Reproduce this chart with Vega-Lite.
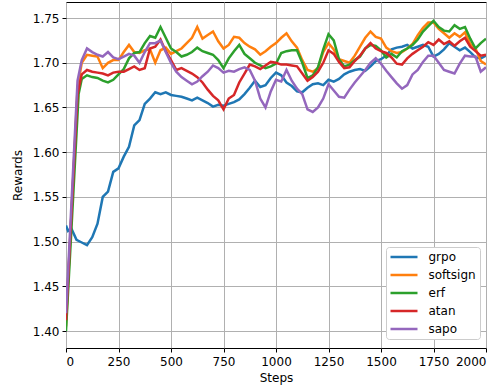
{
"$schema":"https://vega.github.io/schema/vega-lite/v6.json",
"width":420,"height":346,
"autosize":{"type":"none"},
"padding":{"left":66,"top":2,"right":16,"bottom":39},
"background":"white",
"config":{
 "font":"DejaVu Sans",
 "view":{"stroke":"black","strokeWidth":1},
 "axis":{"labelFont":"DejaVu Sans","titleFont":"DejaVu Sans","labelFontSize":12,"titleFontSize":12,"titleFontWeight":"normal","labelColor":"black","titleColor":"black","gridColor":"#b0b0b0","gridWidth":1,"tickColor":"black","tickSize":4,"domain":false,"labelPadding":3},
 "legend":{"labelFont":"DejaVu Sans","labelFontSize":12,"labelColor":"black"}
},
"data":{"values":[
{"s":"grpo","x":0,"y":1.518},{"s":"grpo","x":10,"y":1.512},{"s":"grpo","x":25,"y":1.515},{"s":"grpo","x":50,"y":1.502},{"s":"grpo","x":75,"y":1.499},{"s":"grpo","x":100,"y":1.496},{"s":"grpo","x":125,"y":1.505},{"s":"grpo","x":150,"y":1.52},{"s":"grpo","x":175,"y":1.55},{"s":"grpo","x":200,"y":1.556},{"s":"grpo","x":225,"y":1.578},{"s":"grpo","x":250,"y":1.582},{"s":"grpo","x":275,"y":1.595},{"s":"grpo","x":300,"y":1.606},{"s":"grpo","x":325,"y":1.63},{"s":"grpo","x":350,"y":1.636},{"s":"grpo","x":375,"y":1.654},{"s":"grpo","x":400,"y":1.66},{"s":"grpo","x":425,"y":1.667},{"s":"grpo","x":450,"y":1.665},{"s":"grpo","x":475,"y":1.667},{"s":"grpo","x":500,"y":1.664},{"s":"grpo","x":525,"y":1.663},{"s":"grpo","x":550,"y":1.662},{"s":"grpo","x":575,"y":1.66},{"s":"grpo","x":600,"y":1.658},{"s":"grpo","x":625,"y":1.661},{"s":"grpo","x":650,"y":1.658},{"s":"grpo","x":675,"y":1.655},{"s":"grpo","x":700,"y":1.651},{"s":"grpo","x":725,"y":1.653},{"s":"grpo","x":750,"y":1.652},{"s":"grpo","x":775,"y":1.654},{"s":"grpo","x":800,"y":1.656},{"s":"grpo","x":825,"y":1.659},{"s":"grpo","x":850,"y":1.665},{"s":"grpo","x":875,"y":1.672},{"s":"grpo","x":900,"y":1.68},{"s":"grpo","x":925,"y":1.673},{"s":"grpo","x":950,"y":1.675},{"s":"grpo","x":975,"y":1.683},{"s":"grpo","x":1000,"y":1.689},{"s":"grpo","x":1025,"y":1.686},{"s":"grpo","x":1050,"y":1.678},{"s":"grpo","x":1075,"y":1.674},{"s":"grpo","x":1100,"y":1.668},{"s":"grpo","x":1125,"y":1.667},{"s":"grpo","x":1150,"y":1.672},{"s":"grpo","x":1175,"y":1.676},{"s":"grpo","x":1200,"y":1.677},{"s":"grpo","x":1225,"y":1.675},{"s":"grpo","x":1250,"y":1.681},{"s":"grpo","x":1275,"y":1.679},{"s":"grpo","x":1300,"y":1.682},{"s":"grpo","x":1325,"y":1.687},{"s":"grpo","x":1350,"y":1.69},{"s":"grpo","x":1375,"y":1.692},{"s":"grpo","x":1400,"y":1.693},{"s":"grpo","x":1425,"y":1.691},{"s":"grpo","x":1450,"y":1.696},{"s":"grpo","x":1475,"y":1.702},{"s":"grpo","x":1500,"y":1.704},{"s":"grpo","x":1525,"y":1.708},{"s":"grpo","x":1550,"y":1.715},{"s":"grpo","x":1575,"y":1.717},{"s":"grpo","x":1600,"y":1.718},{"s":"grpo","x":1625,"y":1.72},{"s":"grpo","x":1650,"y":1.716},{"s":"grpo","x":1675,"y":1.718},{"s":"grpo","x":1700,"y":1.72},{"s":"grpo","x":1725,"y":1.718},{"s":"grpo","x":1750,"y":1.707},{"s":"grpo","x":1775,"y":1.71},{"s":"grpo","x":1800,"y":1.715},{"s":"grpo","x":1825,"y":1.722},{"s":"grpo","x":1850,"y":1.718},{"s":"grpo","x":1875,"y":1.714},{"s":"grpo","x":1900,"y":1.717},{"s":"grpo","x":1925,"y":1.712},{"s":"grpo","x":1950,"y":1.706},{"s":"grpo","x":1975,"y":1.705},{"s":"grpo","x":2000,"y":1.708},
{"s":"softsign","x":0,"y":1.405},{"s":"softsign","x":55,"y":1.672},{"s":"softsign","x":75,"y":1.7},{"s":"softsign","x":100,"y":1.709},{"s":"softsign","x":125,"y":1.708},{"s":"softsign","x":150,"y":1.707},{"s":"softsign","x":175,"y":1.694},{"s":"softsign","x":200,"y":1.7},{"s":"softsign","x":225,"y":1.703},{"s":"softsign","x":250,"y":1.703},{"s":"softsign","x":275,"y":1.712},{"s":"softsign","x":300,"y":1.72},{"s":"softsign","x":325,"y":1.712},{"s":"softsign","x":350,"y":1.711},{"s":"softsign","x":375,"y":1.714},{"s":"softsign","x":400,"y":1.715},{"s":"softsign","x":425,"y":1.7},{"s":"softsign","x":450,"y":1.714},{"s":"softsign","x":475,"y":1.717},{"s":"softsign","x":500,"y":1.71},{"s":"softsign","x":525,"y":1.713},{"s":"softsign","x":550,"y":1.716},{"s":"softsign","x":575,"y":1.722},{"s":"softsign","x":600,"y":1.728},{"s":"softsign","x":625,"y":1.74},{"s":"softsign","x":650,"y":1.727},{"s":"softsign","x":675,"y":1.731},{"s":"softsign","x":700,"y":1.735},{"s":"softsign","x":725,"y":1.724},{"s":"softsign","x":750,"y":1.716},{"s":"softsign","x":775,"y":1.72},{"s":"softsign","x":800,"y":1.729},{"s":"softsign","x":825,"y":1.728},{"s":"softsign","x":850,"y":1.722},{"s":"softsign","x":875,"y":1.718},{"s":"softsign","x":900,"y":1.715},{"s":"softsign","x":925,"y":1.709},{"s":"softsign","x":950,"y":1.713},{"s":"softsign","x":975,"y":1.718},{"s":"softsign","x":1000,"y":1.722},{"s":"softsign","x":1025,"y":1.728},{"s":"softsign","x":1050,"y":1.733},{"s":"softsign","x":1075,"y":1.724},{"s":"softsign","x":1100,"y":1.717},{"s":"softsign","x":1125,"y":1.703},{"s":"softsign","x":1150,"y":1.692},{"s":"softsign","x":1175,"y":1.69},{"s":"softsign","x":1200,"y":1.694},{"s":"softsign","x":1225,"y":1.712},{"s":"softsign","x":1250,"y":1.722},{"s":"softsign","x":1275,"y":1.715},{"s":"softsign","x":1300,"y":1.704},{"s":"softsign","x":1325,"y":1.702},{"s":"softsign","x":1350,"y":1.7},{"s":"softsign","x":1375,"y":1.708},{"s":"softsign","x":1400,"y":1.718},{"s":"softsign","x":1425,"y":1.728},{"s":"softsign","x":1450,"y":1.735},{"s":"softsign","x":1475,"y":1.729},{"s":"softsign","x":1500,"y":1.727},{"s":"softsign","x":1525,"y":1.717},{"s":"softsign","x":1550,"y":1.713},{"s":"softsign","x":1575,"y":1.711},{"s":"softsign","x":1600,"y":1.712},{"s":"softsign","x":1625,"y":1.716},{"s":"softsign","x":1650,"y":1.721},{"s":"softsign","x":1675,"y":1.731},{"s":"softsign","x":1700,"y":1.739},{"s":"softsign","x":1725,"y":1.745},{"s":"softsign","x":1750,"y":1.745},{"s":"softsign","x":1775,"y":1.738},{"s":"softsign","x":1800,"y":1.733},{"s":"softsign","x":1825,"y":1.728},{"s":"softsign","x":1850,"y":1.733},{"s":"softsign","x":1875,"y":1.729},{"s":"softsign","x":1900,"y":1.734},{"s":"softsign","x":1925,"y":1.721},{"s":"softsign","x":1950,"y":1.716},{"s":"softsign","x":1975,"y":1.702},{"s":"softsign","x":2000,"y":1.698},
{"s":"erf","x":0,"y":1.4},{"s":"erf","x":60,"y":1.665},{"s":"erf","x":75,"y":1.682},{"s":"erf","x":100,"y":1.686},{"s":"erf","x":125,"y":1.684},{"s":"erf","x":150,"y":1.683},{"s":"erf","x":175,"y":1.68},{"s":"erf","x":200,"y":1.678},{"s":"erf","x":225,"y":1.681},{"s":"erf","x":250,"y":1.687},{"s":"erf","x":275,"y":1.693},{"s":"erf","x":300,"y":1.705},{"s":"erf","x":325,"y":1.711},{"s":"erf","x":350,"y":1.712},{"s":"erf","x":375,"y":1.722},{"s":"erf","x":400,"y":1.73},{"s":"erf","x":425,"y":1.728},{"s":"erf","x":450,"y":1.74},{"s":"erf","x":475,"y":1.728},{"s":"erf","x":500,"y":1.716},{"s":"erf","x":525,"y":1.712},{"s":"erf","x":550,"y":1.707},{"s":"erf","x":575,"y":1.709},{"s":"erf","x":600,"y":1.712},{"s":"erf","x":625,"y":1.717},{"s":"erf","x":650,"y":1.713},{"s":"erf","x":675,"y":1.711},{"s":"erf","x":700,"y":1.709},{"s":"erf","x":725,"y":1.703},{"s":"erf","x":750,"y":1.694},{"s":"erf","x":775,"y":1.705},{"s":"erf","x":800,"y":1.713},{"s":"erf","x":825,"y":1.72},{"s":"erf","x":850,"y":1.71},{"s":"erf","x":875,"y":1.705},{"s":"erf","x":900,"y":1.7},{"s":"erf","x":925,"y":1.697},{"s":"erf","x":950,"y":1.694},{"s":"erf","x":975,"y":1.696},{"s":"erf","x":1000,"y":1.699},{"s":"erf","x":1025,"y":1.711},{"s":"erf","x":1050,"y":1.713},{"s":"erf","x":1075,"y":1.714},{"s":"erf","x":1100,"y":1.714},{"s":"erf","x":1125,"y":1.7},{"s":"erf","x":1150,"y":1.683},{"s":"erf","x":1175,"y":1.686},{"s":"erf","x":1200,"y":1.695},{"s":"erf","x":1225,"y":1.715},{"s":"erf","x":1250,"y":1.732},{"s":"erf","x":1275,"y":1.725},{"s":"erf","x":1300,"y":1.704},{"s":"erf","x":1325,"y":1.696},{"s":"erf","x":1350,"y":1.698},{"s":"erf","x":1375,"y":1.703},{"s":"erf","x":1400,"y":1.707},{"s":"erf","x":1425,"y":1.716},{"s":"erf","x":1450,"y":1.72},{"s":"erf","x":1475,"y":1.719},{"s":"erf","x":1500,"y":1.714},{"s":"erf","x":1525,"y":1.706},{"s":"erf","x":1550,"y":1.71},{"s":"erf","x":1575,"y":1.706},{"s":"erf","x":1600,"y":1.713},{"s":"erf","x":1625,"y":1.716},{"s":"erf","x":1650,"y":1.72},{"s":"erf","x":1675,"y":1.726},{"s":"erf","x":1700,"y":1.735},{"s":"erf","x":1725,"y":1.741},{"s":"erf","x":1750,"y":1.747},{"s":"erf","x":1775,"y":1.74},{"s":"erf","x":1800,"y":1.736},{"s":"erf","x":1825,"y":1.735},{"s":"erf","x":1850,"y":1.742},{"s":"erf","x":1875,"y":1.738},{"s":"erf","x":1900,"y":1.74},{"s":"erf","x":1925,"y":1.727},{"s":"erf","x":1950,"y":1.716},{"s":"erf","x":1975,"y":1.722},{"s":"erf","x":2000,"y":1.727},
{"s":"atan","x":0,"y":1.412},{"s":"atan","x":55,"y":1.665},{"s":"atan","x":75,"y":1.687},{"s":"atan","x":100,"y":1.692},{"s":"atan","x":125,"y":1.69},{"s":"atan","x":150,"y":1.689},{"s":"atan","x":175,"y":1.688},{"s":"atan","x":200,"y":1.686},{"s":"atan","x":225,"y":1.689},{"s":"atan","x":250,"y":1.69},{"s":"atan","x":275,"y":1.69},{"s":"atan","x":300,"y":1.693},{"s":"atan","x":325,"y":1.696},{"s":"atan","x":350,"y":1.692},{"s":"atan","x":375,"y":1.694},{"s":"atan","x":400,"y":1.716},{"s":"atan","x":425,"y":1.718},{"s":"atan","x":450,"y":1.726},{"s":"atan","x":475,"y":1.713},{"s":"atan","x":500,"y":1.703},{"s":"atan","x":525,"y":1.692},{"s":"atan","x":550,"y":1.694},{"s":"atan","x":575,"y":1.691},{"s":"atan","x":600,"y":1.688},{"s":"atan","x":625,"y":1.684},{"s":"atan","x":650,"y":1.678},{"s":"atan","x":675,"y":1.67},{"s":"atan","x":700,"y":1.663},{"s":"atan","x":725,"y":1.658},{"s":"atan","x":750,"y":1.648},{"s":"atan","x":775,"y":1.66},{"s":"atan","x":800,"y":1.664},{"s":"atan","x":825,"y":1.678},{"s":"atan","x":850,"y":1.688},{"s":"atan","x":875,"y":1.698},{"s":"atan","x":900,"y":1.696},{"s":"atan","x":925,"y":1.693},{"s":"atan","x":950,"y":1.697},{"s":"atan","x":975,"y":1.701},{"s":"atan","x":1000,"y":1.7},{"s":"atan","x":1025,"y":1.698},{"s":"atan","x":1050,"y":1.698},{"s":"atan","x":1075,"y":1.697},{"s":"atan","x":1100,"y":1.696},{"s":"atan","x":1125,"y":1.688},{"s":"atan","x":1150,"y":1.68},{"s":"atan","x":1175,"y":1.684},{"s":"atan","x":1200,"y":1.69},{"s":"atan","x":1225,"y":1.7},{"s":"atan","x":1250,"y":1.714},{"s":"atan","x":1275,"y":1.71},{"s":"atan","x":1300,"y":1.701},{"s":"atan","x":1325,"y":1.694},{"s":"atan","x":1350,"y":1.695},{"s":"atan","x":1375,"y":1.702},{"s":"atan","x":1400,"y":1.708},{"s":"atan","x":1425,"y":1.716},{"s":"atan","x":1450,"y":1.722},{"s":"atan","x":1475,"y":1.716},{"s":"atan","x":1500,"y":1.713},{"s":"atan","x":1525,"y":1.711},{"s":"atan","x":1550,"y":1.706},{"s":"atan","x":1575,"y":1.699},{"s":"atan","x":1600,"y":1.698},{"s":"atan","x":1625,"y":1.705},{"s":"atan","x":1650,"y":1.71},{"s":"atan","x":1675,"y":1.714},{"s":"atan","x":1700,"y":1.718},{"s":"atan","x":1725,"y":1.723},{"s":"atan","x":1750,"y":1.72},{"s":"atan","x":1775,"y":1.726},{"s":"atan","x":1800,"y":1.721},{"s":"atan","x":1825,"y":1.724},{"s":"atan","x":1850,"y":1.719},{"s":"atan","x":1875,"y":1.724},{"s":"atan","x":1900,"y":1.728},{"s":"atan","x":1925,"y":1.718},{"s":"atan","x":1950,"y":1.713},{"s":"atan","x":1975,"y":1.708},{"s":"atan","x":2000,"y":1.709},
{"s":"sapo","x":0,"y":1.42},{"s":"sapo","x":55,"y":1.68},{"s":"sapo","x":75,"y":1.703},{"s":"sapo","x":100,"y":1.716},{"s":"sapo","x":125,"y":1.712},{"s":"sapo","x":150,"y":1.709},{"s":"sapo","x":175,"y":1.707},{"s":"sapo","x":200,"y":1.712},{"s":"sapo","x":225,"y":1.706},{"s":"sapo","x":250,"y":1.704},{"s":"sapo","x":275,"y":1.707},{"s":"sapo","x":300,"y":1.71},{"s":"sapo","x":325,"y":1.708},{"s":"sapo","x":350,"y":1.7},{"s":"sapo","x":375,"y":1.712},{"s":"sapo","x":400,"y":1.722},{"s":"sapo","x":425,"y":1.722},{"s":"sapo","x":450,"y":1.725},{"s":"sapo","x":475,"y":1.712},{"s":"sapo","x":500,"y":1.7},{"s":"sapo","x":525,"y":1.69},{"s":"sapo","x":550,"y":1.684},{"s":"sapo","x":575,"y":1.68},{"s":"sapo","x":600,"y":1.676},{"s":"sapo","x":625,"y":1.679},{"s":"sapo","x":650,"y":1.685},{"s":"sapo","x":675,"y":1.69},{"s":"sapo","x":700,"y":1.697},{"s":"sapo","x":725,"y":1.694},{"s":"sapo","x":750,"y":1.689},{"s":"sapo","x":775,"y":1.691},{"s":"sapo","x":800,"y":1.69},{"s":"sapo","x":825,"y":1.693},{"s":"sapo","x":850,"y":1.695},{"s":"sapo","x":875,"y":1.692},{"s":"sapo","x":900,"y":1.68},{"s":"sapo","x":925,"y":1.66},{"s":"sapo","x":950,"y":1.65},{"s":"sapo","x":975,"y":1.668},{"s":"sapo","x":1000,"y":1.681},{"s":"sapo","x":1025,"y":1.679},{"s":"sapo","x":1050,"y":1.692},{"s":"sapo","x":1075,"y":1.68},{"s":"sapo","x":1100,"y":1.671},{"s":"sapo","x":1125,"y":1.665},{"s":"sapo","x":1150,"y":1.648},{"s":"sapo","x":1175,"y":1.645},{"s":"sapo","x":1200,"y":1.65},{"s":"sapo","x":1225,"y":1.66},{"s":"sapo","x":1250,"y":1.676},{"s":"sapo","x":1275,"y":1.669},{"s":"sapo","x":1300,"y":1.662},{"s":"sapo","x":1325,"y":1.661},{"s":"sapo","x":1350,"y":1.67},{"s":"sapo","x":1375,"y":1.678},{"s":"sapo","x":1400,"y":1.685},{"s":"sapo","x":1425,"y":1.692},{"s":"sapo","x":1450,"y":1.7},{"s":"sapo","x":1475,"y":1.705},{"s":"sapo","x":1500,"y":1.699},{"s":"sapo","x":1525,"y":1.691},{"s":"sapo","x":1550,"y":1.684},{"s":"sapo","x":1575,"y":1.677},{"s":"sapo","x":1600,"y":1.671},{"s":"sapo","x":1625,"y":1.675},{"s":"sapo","x":1650,"y":1.687},{"s":"sapo","x":1675,"y":1.692},{"s":"sapo","x":1700,"y":1.701},{"s":"sapo","x":1725,"y":1.708},{"s":"sapo","x":1750,"y":1.708},{"s":"sapo","x":1775,"y":1.7},{"s":"sapo","x":1800,"y":1.692},{"s":"sapo","x":1825,"y":1.69},{"s":"sapo","x":1850,"y":1.688},{"s":"sapo","x":1875,"y":1.699},{"s":"sapo","x":1900,"y":1.708},{"s":"sapo","x":1925,"y":1.707},{"s":"sapo","x":1950,"y":1.707},{"s":"sapo","x":1975,"y":1.69},{"s":"sapo","x":2000,"y":1.695}
]},
"mark":{"type":"line","strokeWidth":2.5,"clip":true},
"encoding":{
 "x":{"field":"x","type":"quantitative","title":"Steps","scale":{"domain":[0,2000],"nice":false,"zero":false},"axis":{"values":[0,250,500,750,1000,1250,1500,1750,2000],"format":"d","labelPadding":4,"titlePadding":5}},
 "y":{"field":"y","type":"quantitative","title":"Rewards","scale":{"domain":[1.381,1.768],"nice":false,"zero":false},"axis":{"values":[1.4,1.45,1.5,1.55,1.6,1.65,1.7,1.75],"format":".2f","titlePadding":8}},
 "color":{"field":"s","type":"nominal","title":null,"sort":["grpo","softsign","erf","atan","sapo"],
  "scale":{"domain":["grpo","softsign","erf","atan","sapo"],"range":["#1f77b4","#ff7f0e","#2ca02c","#d62728","#9467bd"]},
  "legend":{"orient":"none","legendX":320,"legendY":245,"symbolType":"M-2.7,0H2.7","symbolStrokeWidth":2.5,"symbolSize":100,"symbolOffset":8,"rowPadding":5,"labelOffset":18,"padding":3.5,"strokeColor":"#cccccc","fillColor":"white","cornerRadius":3}}
}
}
